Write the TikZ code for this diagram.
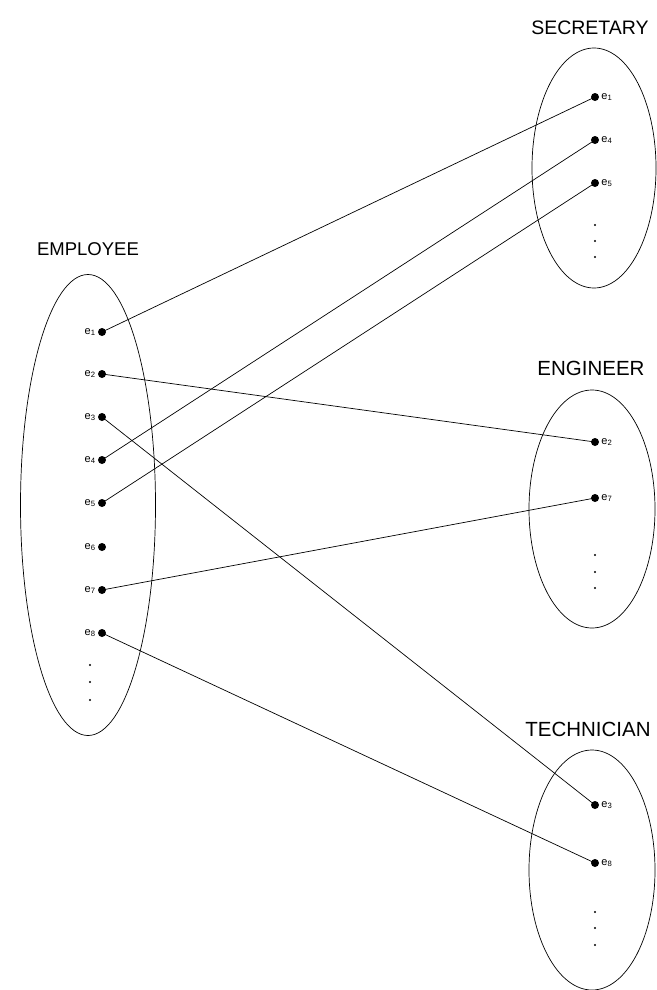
\documentclass[tikz,border=0pt]{standalone}
\usepackage{fontspec}
\setmainfont{Liberation Sans}
\usetikzlibrary{shapes.geometric}
\begin{document}
\begin{tikzpicture}[x=1pt,y=-1pt,
  setshape/.style={draw, ellipse, line width=0.7pt, inner sep=0pt},
  member/.style={circle, fill, inner sep=0pt, minimum size=8pt},
  elem/.style={font=\fontsize{11}{13}\selectfont, inner sep=2pt},
  title/.style={font=\fontsize{#1}{22}\selectfont},
  title/.default=19,
  pt/.style={circle, fill, inner sep=0pt, minimum size=2.2pt},
  link/.style={line width=0.7pt}]
\useasboundingbox (0,0) rectangle (656,990);

% sets
\node[setshape, minimum width=135pt, minimum height=461pt] (emp) at (88,505) {};
\node[setshape, minimum width=124pt, minimum height=240pt] (sec) at (594,168) {};
\node[setshape, minimum width=126pt, minimum height=238pt] (eng) at (592,509) {};
\node[setshape, minimum width=126pt, minimum height=240pt] (tec) at (592,870) {};

% set names
\node[title=18.5] (empname) at (88,249) {EMPLOYEE};
\node[title=19.5] (secname) at (590,28) {SECRETARY};
\node[title=20.5] (engname) at (591,368) {ENGINEER};
\node[title=20.5] (tecname) at (588,729) {TECHNICIAN};

% employee entities
\foreach \i/\y in {1/332,2/374,3/417,4/460,5/503,6/547,7/590,8/633}
  \node[member, label={[elem]left:e\textsubscript{\i}}] (e\i) at (102,\y) {};
\node[pt] (ev1) at (90,665) {};
\node[pt] (ev2) at (90,682) {};
\node[pt] (ev3) at (90,700) {};

% secretary entities
\node[member, label={[elem]right:e\textsubscript{1}}] (s1) at (595,97) {};
\node[member, label={[elem]right:e\textsubscript{4}}] (s4) at (595,140) {};
\node[member, label={[elem]right:e\textsubscript{5}}] (s5) at (595,183) {};
\node[pt] (sv1) at (595,225) {};
\node[pt] (sv2) at (595,241) {};
\node[pt] (sv3) at (595,257) {};

% engineer entities
\node[member, label={[elem]right:e\textsubscript{2}}] (g2) at (595,442) {};
\node[member, label={[elem]right:e\textsubscript{7}}] (g7) at (595,498) {};
\node[pt] (gv1) at (595,555) {};
\node[pt] (gv2) at (595,572) {};
\node[pt] (gv3) at (595,588) {};

% technician entities
\node[member, label={[elem]right:e\textsubscript{3}}] (t3) at (595,805) {};
\node[member, label={[elem]right:e\textsubscript{8}}] (t8) at (595,863) {};
\node[pt] (tv1) at (595,912) {};
\node[pt] (tv2) at (595,928) {};
\node[pt] (tv3) at (595,945) {};

% memberships
\draw[link] (e1.center) -- (s1.center);
\draw[link] (e4.center) -- (s4.center);
\draw[link] (e5.center) -- (s5.center);
\draw[link] (e2.center) -- (g2.center);
\draw[link] (e7.center) -- (g7.center);
\draw[link] (e3.center) -- (t3.center);
\draw[link] (e8.center) -- (t8.center);
\end{tikzpicture}
\end{document}
